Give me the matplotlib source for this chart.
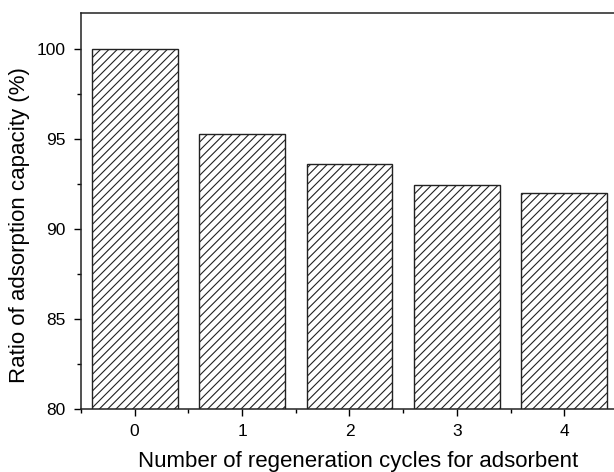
import matplotlib
matplotlib.use("Agg")
import matplotlib.pyplot as plt
from matplotlib.ticker import MultipleLocator

plt.rcParams['font.family'] = ['Liberation Sans', 'DejaVu Sans']
plt.rcParams['hatch.linewidth'] = 0.8
plt.rcParams['hatch.color'] = '#222222'

cycles = [0, 1, 2, 3, 4]
ratio = [100.0, 95.3, 93.6, 92.45, 92.0]

fig = plt.figure(figsize=(6.14, 4.72), dpi=100)
ax = fig.add_axes([0.1319, 0.1335, 0.8746, 0.839])

ax.bar(cycles, ratio, width=0.8, color='white', edgecolor='#222222',
       linewidth=1.0, hatch='////')

ax.set_xlim(-0.5, 4.5)
ax.set_ylim(80, 102)
ax.set_xticks(cycles)
ax.yaxis.set_major_locator(MultipleLocator(5))
ax.yaxis.set_minor_locator(MultipleLocator(2.5))
ax.xaxis.set_minor_locator(MultipleLocator(0.5))
ax.tick_params(which='major', direction='out', length=5, width=1, labelsize=12.5, pad=6)
ax.tick_params(which='minor', direction='out', length=3, width=1)
ax.tick_params(top=False, right=False, which='both')
for s in ax.spines.values():
    s.set_linewidth(1.1)
    s.set_color('#222222')

ax.set_xlabel("Number of regeneration cycles for adsorbent", fontsize=16, labelpad=8.5)
ax.set_ylabel("Ratio of adsorption capacity (%)", fontsize=16, labelpad=5)
ax.xaxis.label.set_x(0.517)
ax.yaxis.label.set_y(0.465)

fig.savefig("out.png", dpi=100)
